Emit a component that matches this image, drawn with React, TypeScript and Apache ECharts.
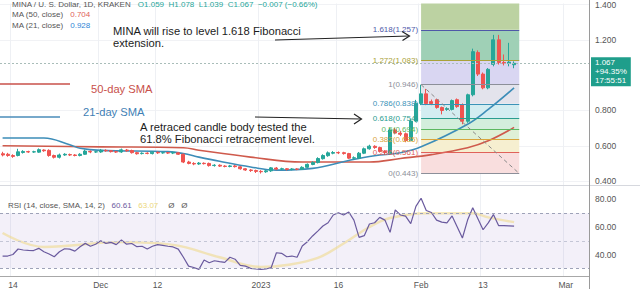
import React, { useEffect, useRef } from "react";
import * as echarts from "echarts";

// ---------- categories (daily, Nov 12 2022 -> Mar 5 2023) ----------
const categories: string[] = (() => {
  const out: string[] = [];
  for (let i = 0; i < 114; i++) {
    const d = new Date(Date.UTC(2022, 10, 12 + i));
    out.push(d.toISOString().slice(0, 10));
  }
  return out;
})();

const tickDates = ["2022-11-14", "2022-12-01", "2022-12-12", "2023-01-01", "2023-01-16", "2023-02-01", "2023-02-13", "2023-03-01"];
const tickLabels = ["14", "Dec", "12", "2023", "16", "Feb", "13", "Mar"];
const priceTicks = [0.4, 0.6, 0.8, 1.2, 1.4];
const rsiTicks = [40, 60, 80];

// ---------- candles: [open, close, low, high] ----------
const candles: number[][] = [
  [0.555, 0.548, 0.540, 0.566], [0.552, 0.545, 0.538, 0.560], [0.545, 0.540, 0.532, 0.552], [0.545, 0.566, 0.540, 0.583],
  [0.562, 0.568, 0.556, 0.575], [0.567, 0.565, 0.560, 0.572], [0.565, 0.566, 0.560, 0.572], [0.564, 0.578, 0.560, 0.585],
  [0.576, 0.572, 0.566, 0.580], [0.574, 0.545, 0.538, 0.580], [0.545, 0.535, 0.528, 0.550], [0.535, 0.548, 0.528, 0.556],
  [0.548, 0.552, 0.543, 0.558], [0.550, 0.548, 0.542, 0.556], [0.548, 0.545, 0.540, 0.553], [0.545, 0.552, 0.540, 0.558],
  [0.552, 0.570, 0.548, 0.578], [0.568, 0.565, 0.558, 0.574], [0.565, 0.566, 0.560, 0.572], [0.565, 0.575, 0.560, 0.582],
  [0.574, 0.572, 0.566, 0.580], [0.572, 0.567, 0.562, 0.576], [0.566, 0.565, 0.560, 0.572], [0.565, 0.577, 0.560, 0.584],
  [0.576, 0.572, 0.566, 0.582], [0.573, 0.561, 0.556, 0.578], [0.561, 0.555, 0.550, 0.566], [0.556, 0.558, 0.551, 0.563],
  [0.558, 0.557, 0.552, 0.563], [0.556, 0.564, 0.551, 0.569], [0.563, 0.560, 0.554, 0.568], [0.560, 0.561, 0.555, 0.566],
  [0.561, 0.559, 0.554, 0.565], [0.559, 0.561, 0.553, 0.567], [0.560, 0.552, 0.548, 0.565], [0.552, 0.508, 0.502, 0.556],
  [0.508, 0.500, 0.495, 0.515], [0.500, 0.497, 0.490, 0.507], [0.497, 0.502, 0.492, 0.508], [0.501, 0.499, 0.494, 0.506],
  [0.500, 0.488, 0.482, 0.505], [0.488, 0.490, 0.482, 0.496], [0.490, 0.485, 0.480, 0.495], [0.485, 0.483, 0.478, 0.490],
  [0.483, 0.486, 0.478, 0.492], [0.486, 0.482, 0.477, 0.491], [0.481, 0.470, 0.465, 0.485], [0.470, 0.463, 0.458, 0.474],
  [0.463, 0.460, 0.452, 0.468], [0.460, 0.455, 0.446, 0.465], [0.455, 0.453, 0.443, 0.462], [0.453, 0.458, 0.447, 0.463],
  [0.458, 0.475, 0.452, 0.480], [0.474, 0.468, 0.462, 0.480], [0.468, 0.470, 0.463, 0.476], [0.470, 0.466, 0.460, 0.474],
  [0.466, 0.469, 0.461, 0.474], [0.468, 0.467, 0.462, 0.473], [0.467, 0.478, 0.463, 0.484], [0.478, 0.495, 0.474, 0.500],
  [0.494, 0.505, 0.490, 0.512], [0.505, 0.528, 0.500, 0.535], [0.527, 0.545, 0.522, 0.552], [0.544, 0.560, 0.538, 0.568],
  [0.558, 0.562, 0.552, 0.570], [0.562, 0.560, 0.553, 0.568], [0.561, 0.556, 0.550, 0.566], [0.556, 0.530, 0.525, 0.560],
  [0.530, 0.532, 0.523, 0.540], [0.530, 0.558, 0.525, 0.565], [0.558, 0.583, 0.553, 0.590], [0.583, 0.598, 0.578, 0.606],
  [0.597, 0.590, 0.583, 0.603], [0.590, 0.568, 0.562, 0.595], [0.568, 0.562, 0.552, 0.575], [0.558, 0.690, 0.553, 0.700],
  [0.690, 0.672, 0.665, 0.700], [0.672, 0.665, 0.655, 0.685], [0.668, 0.630, 0.620, 0.675], [0.630, 0.740, 0.625, 0.750],
  [0.740, 0.840, 0.735, 0.860], [0.840, 0.894, 0.830, 0.946], [0.894, 0.839, 0.830, 0.922], [0.850, 0.839, 0.830, 0.862],
  [0.861, 0.817, 0.810, 0.866], [0.817, 0.800, 0.778, 0.822], [0.806, 0.811, 0.798, 0.818], [0.806, 0.856, 0.800, 0.862],
  [0.861, 0.822, 0.815, 0.868], [0.833, 0.739, 0.722, 0.840], [0.739, 0.889, 0.730, 0.895], [0.889, 1.133, 0.880, 1.150],
  [1.128, 1.006, 0.995, 1.140], [1.006, 0.928, 0.920, 1.015], [0.928, 1.033, 0.920, 1.040], [1.061, 1.200, 1.050, 1.228],
  [1.200, 1.072, 1.060, 1.228], [1.072, 1.067, 1.055, 1.117], [1.067, 1.074, 1.050, 1.183], [1.059, 1.067, 1.039, 1.078],
];

// ---------- moving averages: [dayIndex, value] ----------
const ma21: number[][] = [
  [0, 0.644], [8, 0.644], [13, 0.606], [15, 0.586], [19, 0.574], [32, 0.567], [35, 0.556], [38, 0.536], [42, 0.512],
  [48, 0.480], [53, 0.462], [60, 0.472], [67, 0.517], [72, 0.544], [77, 0.561], [81, 0.594], [90, 0.722], [94, 0.806], [99, 0.928],
];
const ma50: number[][] = [
  [0, 0.600], [19, 0.594], [35, 0.589], [38, 0.575], [48, 0.536], [58, 0.508], [71, 0.508], [77, 0.528], [83, 0.550],
  [90, 0.589], [94, 0.628], [99, 0.704],
];

// ---------- RSI ----------
const rsi: number[] = [
  38.9, 38.9, 40, 44, 43.3, 43, 42.9, 44.5, 42, 40.4, 38.4, 42, 44.2, 43.9, 42.5, 45.7, 48.1, 46, 47.5, 50,
  48.1, 48.8, 47.2, 50.5, 47.5, 48, 45.7, 46, 44, 46, 47.2, 46.7, 46, 45.5, 43.9, 38, 31.6, 30.6, 29.2, 36,
  34, 35.5, 34.8, 34.3, 38, 36.6, 32.1, 31.6, 30, 29.5, 29.2, 29.5, 30.6, 41.3, 40.9, 38.4, 38.9, 38, 46.2, 49.3,
  53.5, 57, 60.7, 63.1, 68.7, 70.4, 68.7, 70.9, 65, 52.5, 53.7, 62.2, 63.1, 67, 65, 56.1, 72.4, 68.7, 67.9, 62.4,
  75, 80.9, 72, 70.5, 65, 63.5, 63, 68, 60, 52, 65, 74, 66, 58, 63, 69, 61, 61, 60.8, 60.61,
];
const rsiSma: number[][] = [
  [0, 55.6], [8, 45.5], [23, 49], [33, 47], [42, 38], [50, 31], [55, 32.4], [61, 37.5], [66, 48], [71, 60],
  [75, 66.5], [82, 70], [91, 70], [94, 67], [99, 63.5],
];

// ---------- Fibonacci retracement ----------
const fibRatios = ["0", "0.236", "0.382", "0.5", "0.618", "0.786", "1", "1.272", "1.618"];
const fibPrices = [0.443, 0.561, 0.635, 0.694, 0.754, 0.838, 0.946, 1.083, 1.257];
const fibLineColors = ["#8c8f99", "#e0625a", "#d9a53a", "#5cb860", "#2a9d8f", "#3b93b8", "#8c8f99", "#aaa23a", "#4e58a8"];
const fibBandColors = ["#f9dede", "#f6efd0", "#dff0d6", "#d3eedc", "#d3edf1", "#e3e3ec", "#d9d6f2", "#9fd0b6", "#bcd2a2"];
const fibStartIdx = 81;
const fibEndIdx = 99.6;
const priceMin = 0.378;
const priceMax = 1.4056;
const lastPrice = 1.067;

const FONT = "Liberation Sans, Arial, sans-serif";

export default function App() {
  const ref = useRef<HTMLDivElement>(null);

  useEffect(() => {
    if (!ref.current) return;
    const chart = echarts.init(ref.current, undefined, { renderer: "svg" });
    const tickIdx = tickDates.map((d) => categories.indexOf(d));
    const isTick = (i: number) => tickIdx.indexOf(i) >= 0;

    const fibBands = fibPrices.map((p, i) => [
      { coord: [fibStartIdx, p], itemStyle: { color: fibBandColors[i] } },
      { coord: [fibEndIdx, i < fibPrices.length - 1 ? fibPrices[i + 1] : priceMax] },
    ]);
    const fibLines: any[] = fibPrices.map((p, i) => [
      {
        coord: [fibStartIdx, p],
        lineStyle: { color: fibLineColors[i], width: 1, type: "solid" },
        label: { formatter: `${fibRatios[i]}(${p.toFixed(3)})`, color: fibLineColors[i] },
      },
      { coord: [fibEndIdx, p] },
    ]);
    fibLines.push([
      { coord: [fibStartIdx, fibPrices[6]], lineStyle: { color: "#8a8a8a", width: 1, type: [4, 3] }, label: { show: false } },
      { coord: [fibEndIdx, fibPrices[0]] },
    ]);

    const annot = (text: string, x: number, y: number, fill = "#1c1c1c") => ({
      type: "text", z: 60, x, y,
      style: { text, fill, fontSize: 11.2, fontFamily: FONT, verticalAlign: "middle" },
    });

    const option: any = {
      animation: false,
      backgroundColor: "#ffffff",
      textStyle: { fontFamily: FONT },
      grid: [
        { left: -3, width: 592, top: 0, height: 185 },
        { left: -3, width: 592, top: 185, height: 91 },
      ],
      xAxis: [
        {
          type: "category", gridIndex: 0, data: categories, boundaryGap: true,
          axisLine: { show: false }, axisTick: { show: false }, axisLabel: { show: false },
          splitLine: { show: true, interval: (i: number) => isTick(i), lineStyle: { color: "#eef0f4" } },
        },
        {
          type: "category", gridIndex: 1, data: categories, boundaryGap: true,
          axisLine: { show: true, lineStyle: { color: "#a8a8a8" } }, axisTick: { show: false },
          axisLabel: {
            interval: (i: number) => isTick(i),
            formatter: (v: string) => { const k = tickDates.indexOf(v); return k >= 0 ? tickLabels[k] : ""; },
            color: "#555", fontSize: 8.5, margin: 4, fontFamily: FONT,
          },
          splitLine: { show: true, interval: (i: number) => isTick(i), lineStyle: { color: "#eef0f4" } },
        },
      ],
      yAxis: [
        {
          type: "value", gridIndex: 0, position: "right", min: priceMin, max: priceMax,
          axisLine: { show: false }, axisTick: { show: false, customValues: priceTicks },
          axisLabel: { customValues: priceTicks, formatter: (v: number) => v.toFixed(3), color: "#555", fontSize: 8.5, margin: 6, fontFamily: FONT },
          splitLine: { show: true, lineStyle: { color: "#f1f2f5" } },
        },
        {
          type: "value", gridIndex: 1, position: "right", min: 24.4, max: 90.5,
          axisLine: { show: false }, axisTick: { show: false, customValues: rsiTicks },
          axisLabel: { customValues: rsiTicks, formatter: (v: number) => v.toFixed(2), color: "#555", fontSize: 8.5, margin: 6, fontFamily: FONT },
          splitLine: { show: false },
        },
      ],
      series: [
        {
          name: "fib", type: "line", xAxisIndex: 0, yAxisIndex: 0, data: [], z: 1, silent: true,
          markArea: { silent: true, data: fibBands },
          markLine: {
            silent: true, symbol: ["none", "none"],
            label: { position: "start", fontSize: 8, distance: 3, fontFamily: FONT },
            data: fibLines,
          },
        },
        {
          name: "MA50", type: "line", xAxisIndex: 0, yAxisIndex: 0, data: ma50, smooth: 0.4, showSymbol: false, z: 2,
          lineStyle: { color: "#cf5a4c", width: 1.6 },
        },
        {
          name: "MA21", type: "line", xAxisIndex: 0, yAxisIndex: 0, data: ma21, smooth: 0.4, showSymbol: false, z: 2,
          lineStyle: { color: "#3d8db8", width: 1.6 },
        },
        {
          name: "MINA", type: "candlestick", xAxisIndex: 0, yAxisIndex: 0, data: candles, z: 3, barWidth: 3.4,
          itemStyle: { color: "#26a69a", color0: "#ef5350", borderColor: "#26a69a", borderColor0: "#ef5350", borderWidth: 1 },
          markLine: {
            silent: true, symbol: ["none", "none"],
            lineStyle: { color: "#a9bdb9", type: [2, 2], width: 1 },
            label: {
              show: true, position: "end", distance: 2, offset: [0, 9],
              formatter: "1.067\n+94.35%\n17:55:51",
              backgroundColor: "#1f9e8b", color: "#ffffff", fontSize: 8, lineHeight: 9, padding: [1, 4, 1, 4], fontFamily: FONT,
            },
            data: [{ yAxis: lastPrice }],
          },
        },
        {
          name: "RSI SMA", type: "line", xAxisIndex: 1, yAxisIndex: 1, data: rsiSma, smooth: 0.4, showSymbol: false, z: 2,
          lineStyle: { color: "rgba(240,214,120,0.5)", width: 2.4 },
          markArea: { silent: true, itemStyle: { color: "rgba(126,87,194,0.09)" }, data: [[{ yAxis: 30 }, { yAxis: 70 }]] },
          markLine: {
            silent: true, symbol: ["none", "none"], label: { show: false },
            lineStyle: { color: "#9ea2b8", type: [3, 3], width: 1 },
            data: [{ yAxis: 70 }, { yAxis: 50, lineStyle: { color: "#c4c6d6", type: [3, 3] } }, { yAxis: 30 }],
          },
        },
        {
          name: "RSI", type: "line", xAxisIndex: 1, yAxisIndex: 1, data: rsi, showSymbol: false, z: 3,
          lineStyle: { color: "#6a5a9e", width: 1.2 },
        },
      ],
      graphic: [
        { type: "line", z: 50, shape: { x1: 0, y1: 185.5, x2: 640, y2: 185.5 }, style: { stroke: "#d6d8de", lineWidth: 1 } },
        { type: "line", z: 50, shape: { x1: 589.5, y1: 0, x2: 589.5, y2: 289 }, style: { stroke: "#9a9a9a", lineWidth: 1 } },
        {
          type: "text", z: 60, x: 12, y: 4,
          style: {
            text: "{g|MINA / U. S. Dollar, 1D, KRAKEN}  {v|O1.059  H1.078  L1.039  C1.067  −0.007 (−0.66%)}",
            verticalAlign: "middle",
            rich: { g: { fill: "#555", fontSize: 8, fontFamily: FONT }, v: { fill: "#26a69a", fontSize: 8, fontFamily: FONT } },
          },
        },
        {
          type: "text", z: 60, x: 12, y: 14,
          style: {
            text: "{g|MA (50, close)}  {v|0.704}", verticalAlign: "middle",
            rich: { g: { fill: "#555", fontSize: 8, fontFamily: FONT }, v: { fill: "#e0625a", fontSize: 8, fontFamily: FONT } },
          },
        },
        {
          type: "text", z: 60, x: 12, y: 25,
          style: {
            text: "{g|MA (21, close)}  {v|0.928}", verticalAlign: "middle",
            rich: { g: { fill: "#555", fontSize: 8, fontFamily: FONT }, v: { fill: "#2f86d6", fontSize: 8, fontFamily: FONT } },
          },
        },
        {
          type: "text", z: 60, x: 8, y: 205,
          style: {
            text: "{g|RSI (14, close, SMA, 14, 2)}  {a|60.61}  {b|63.07}   {g|Ø   Ø}", verticalAlign: "middle",
            rich: {
              g: { fill: "#555", fontSize: 8, fontFamily: FONT },
              a: { fill: "#6a5a9e", fontSize: 8, fontFamily: FONT },
              b: { fill: "#ecd77a", fontSize: 8, fontFamily: FONT },
            },
          },
        },
        annot("MINA will rise to level 1.618 Fibonacci", 113, 31),
        annot("extension.", 113, 43),
        { type: "line", z: 60, shape: { x1: 275, y1: 40, x2: 409, y2: 36 }, style: { stroke: "#222", lineWidth: 1.2 } },
        { type: "polyline", z: 60, shape: { points: [[402, 31.5], [409.5, 36], [402.5, 40.5]] }, style: { stroke: "#222", lineWidth: 1.2, fill: null } },
        { type: "line", z: 60, shape: { x1: 0, y1: 84, x2: 70, y2: 84 }, style: { stroke: "#c8504a", lineWidth: 1.6 } },
        annot("50-day SMA", 91, 89, "#c8504a"),
        { type: "line", z: 60, shape: { x1: 0, y1: 117, x2: 60, y2: 117 }, style: { stroke: "#4a8dba", lineWidth: 1.6 } },
        annot("21-day SMA", 83, 112, "#3f7fb5"),
        annot("A retraced candle body tested the", 140, 127),
        annot("61.8% Fibonacci retracement level.", 140, 139),
        { type: "line", z: 60, shape: { x1: 255, y1: 117, x2: 361, y2: 119 }, style: { stroke: "#222", lineWidth: 1.2 } },
        { type: "polyline", z: 60, shape: { points: [[354, 114], [361.5, 119], [354, 124]] }, style: { stroke: "#222", lineWidth: 1.2, fill: null } },
      ],
    };

    chart.setOption(option);
    return () => chart.dispose();
  }, []);

  return <div ref={ref} style={{ position: "fixed", left: 0, top: 0, width: 640, height: 289 }} />;
}
